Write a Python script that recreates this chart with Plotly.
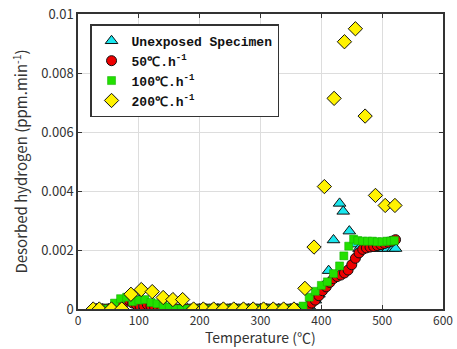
import plotly.graph_objects as go

# ---- data ----
t_unexp = [30, 40, 50, 60, 70, 80, 90, 100, 110, 120, 130, 140, 150, 160, 170, 180, 190, 200,
           210, 220, 230, 240, 250, 260, 270, 280, 290, 300, 310, 320, 330, 340, 350, 360, 370,
           380, 390, 396, 404, 412, 420, 430, 436, 446, 454, 462, 470, 478, 486, 494, 502, 510, 518, 522]
v_unexp = [0, 0, 0, 0, 0.0001, 0.0002, 0.0004, 0.0003, 0.0001, 0, 0, 0, 0, 0, 0, 0, 0, 0,
           0, 0, 0, 0, 0, 0, 0, 0, 0, 0, 0, 0, 0, 0, 0, 0, 0,
           0.0001, 0.0003, 0.0005, 0.0008, 0.0013, 0.00234, 0.00358, 0.00331, 0.00264, 0.0022,
           0.00205, 0.00205, 0.00205, 0.00205, 0.00205, 0.00205, 0.00205, 0.00205, 0.00205]

t_50 = [30, 36, 42, 48, 54, 60, 66, 72, 78, 84, 90, 96, 102, 108, 114, 120, 126, 132, 138, 144,
        150, 156, 162, 168, 174, 180, 186, 192, 198, 204, 210, 216, 222, 228, 234, 240, 246, 252,
        258, 264, 270, 276, 282, 288, 294, 300, 306, 312, 318, 324, 330, 336, 342, 348, 354, 360,
        366, 372, 378, 384, 390, 396, 402, 408, 414, 420, 426, 432, 438, 444, 450, 456, 462, 468,
        474, 480, 486, 492, 498, 504, 510, 516, 522]
v_50 = [0, 0, 0, 0, 0, 0.0001, 0.00015, 0.0002, 0.00025, 0.0003, 0.0002, 0.00015, 0.0001, 0.0001,
        0.00015, 0.0001, 0.00005, 0, 0, 0,
        0, 0, 0, 0, 0, 0, 0, 0, 0, 0, 0, 0, 0, 0, 0, 0, 0, 0,
        0, 0, 0, 0, 0, 0, 0, 0, 0, 0, 0, 0, 0, 0, 0, 0, 0, 0,
        0, 0.00002, 0.00008, 0.0002, 0.0003, 0.00045, 0.00062, 0.00075, 0.0009, 0.00103, 0.0011,
        0.00115, 0.00122, 0.00132, 0.0015, 0.00172, 0.0019, 0.00202,
        0.00207, 0.0021, 0.00212, 0.00215, 0.00218, 0.00222, 0.00226, 0.0023, 0.00235]

t_100 = [30, 40, 50, 60, 70, 80, 90, 100, 110, 120, 130, 140, 150, 160, 170, 180, 190, 200,
         210, 220, 230, 240, 250, 260, 270, 280, 290, 300, 310, 320, 330, 340, 350, 360, 370,
         380, 390, 400, 410, 420, 430, 437, 445, 453, 460, 468, 476, 484, 492, 500, 508, 514, 520]
v_100 = [0, 0, 0, 0.0002, 0.00035, 0.0004, 0.00025, 0.0003, 0.00032, 0.00022, 0.00018, 0.0001,
         0.00005, 0, 0, 0, 0, 0,
         0, 0, 0, 0, 0, 0, 0, 0, 0, 0, 0, 0, 0, 0, 0, 0, 0.0001,
         0.0004, 0.0006, 0.0008, 0.00092, 0.0012, 0.00146, 0.0018, 0.00213, 0.00237,
         0.00232, 0.0023, 0.0023, 0.0023, 0.00228, 0.00228, 0.0023, 0.0023, 0.00232]

t_200 = [25, 35, 55, 72, 87, 104, 122, 140, 156, 172, 190, 206, 223, 239, 256, 272, 288, 305,
         321, 338, 355, 373, 388, 405, 421, 438, 456, 472, 489, 505, 521]
v_200 = [0, 0, 0, 0, 0.0005, 0.00066, 0.00059, 0.00039, 0.00032, 0.00032, 0, 0, 0, 0, 0, 0, 0, 0,
         0, 0, 0, 0.0007, 0.0021, 0.00415, 0.00714, 0.00906, 0.0095, 0.00654, 0.00385, 0.00351, 0.00351]

names = ["Unexposed Specimen", "50℃.h<sup>-1</sup>", "100℃.h<sup>-1</sup>", "200℃.h<sup>-1</sup>"]
x_ticks = [0, 100, 200, 300, 400, 500, 600]
y_ticks = [0, 0.002, 0.004, 0.006, 0.008, 0.01]
y_labels = ["0", "0.002", "0.004", "0.006", "0.008", "0.01"]
x_title = "Temperature (℃)"
y_title = "Desorbed hydrogen (ppm.min<sup>-1</sup>)"

FONT = "Noto Sans CJK JP"
line = dict(color="#111111", width=1)

fig = go.Figure()
fig.add_trace(go.Scatter(x=t_unexp, y=v_unexp, mode="markers", name=names[0],
                         marker=dict(symbol="triangle-up", size=11, color="#19E6EE", line=line)))
fig.add_trace(go.Scatter(x=t_50, y=v_50, mode="markers", name=names[1],
                         marker=dict(symbol="circle", size=10, color="#EE0000", line=line)))
fig.add_trace(go.Scatter(x=t_100, y=v_100, mode="markers", name=names[2],
                         marker=dict(symbol="square", size=8, color="#22E000", line=dict(color="#11AA00", width=0.5))))
fig.add_trace(go.Scatter(x=t_200, y=v_200, mode="markers", name=names[3],
                         marker=dict(symbol="diamond", size=11, color="#FFF200", line=line)))

axis_common = dict(showline=True, linecolor="#333333", linewidth=1.5, mirror="allticks",
                   ticks="inside", ticklen=4, tickcolor="#333333", automargin=False,
                   showgrid=True, gridcolor="#DDDDDD", gridwidth=1, zeroline=False,
                   tickfont=dict(family=FONT, size=12, color="#333333"))

fig.update_xaxes(range=[0, 600], tickvals=x_ticks, ticklabelstandoff=0, **axis_common)
fig.update_yaxes(range=[0, 0.01], tickvals=y_ticks, ticktext=y_labels,
                 tickfont=dict(family=FONT, size=13, color="#333333"),
                 title=dict(text=y_title, font=dict(family=FONT, size=15, color="#333333"), standoff=10),
                 **{k: v for k, v in axis_common.items() if k != "tickfont"})

fig.add_annotation(text=x_title, xref="paper", yref="paper", x=0.5, y=-0.0,
                   xanchor="center", yanchor="bottom", yshift=-40, showarrow=False,
                   font=dict(family=FONT, size=14, color="#333333"))

fig.update_layout(
    width=457, height=349,
    margin=dict(l=78, r=14, t=14, b=40),
    paper_bgcolor="white", plot_bgcolor="white",
    showlegend=True,
    legend=dict(x=0.033, y=0.965, xanchor="left", yanchor="top",
                bgcolor="white", bordercolor="#333333", borderwidth=1.5,
                font=dict(family="Liberation Mono", size=13, color="#111111", weight="bold"),
                itemwidth=30, tracegroupgap=0),
)

fig.write_html("out.html")
